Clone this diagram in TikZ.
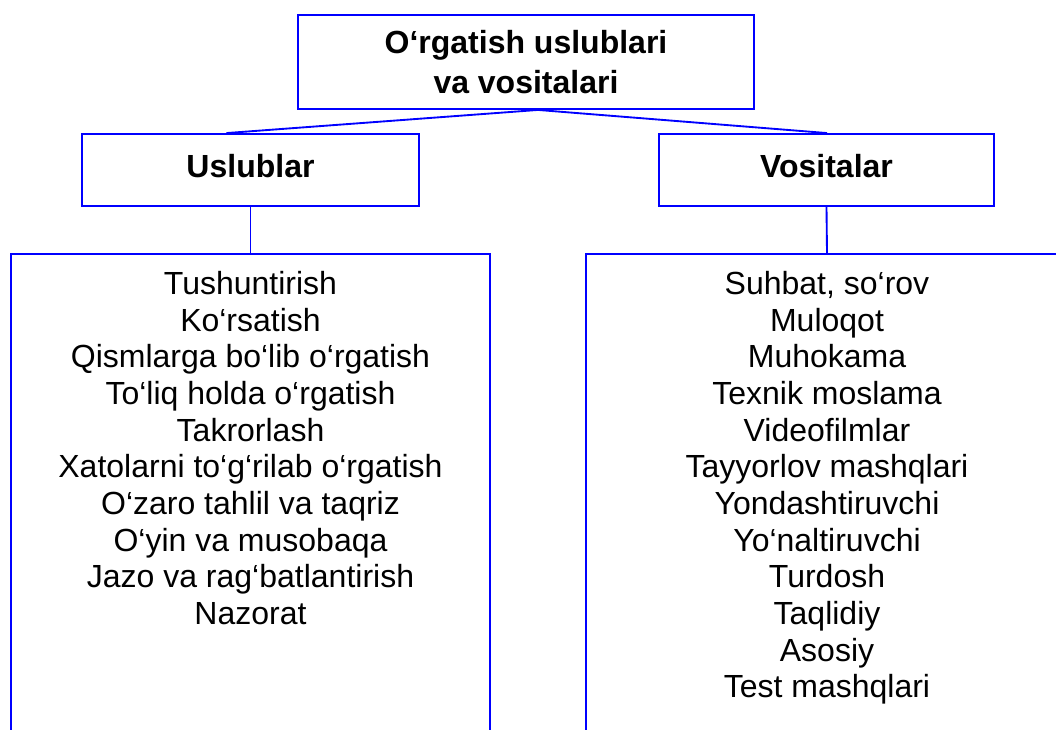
\documentclass[tikz,border=0pt]{standalone}
\usepackage{fontspec}
\setmainfont{Liberation Sans}
\usetikzlibrary{calc}
\begin{document}
\begin{tikzpicture}[x=0.75pt,y=-0.75pt,
  box/.style={draw=blue,line width=1.4pt,rectangle,inner sep=0pt},
  conn/.style={draw=blue,line width=1.4pt},
  head/.style={font=\fontsize{24}{29.5}\selectfont\bfseries,align=center},
  listtext/.style={font=\fontsize{24}{27.5}\selectfont,align=center,inner sep=0pt,anchor=north}]
\useasboundingbox (0,0) rectangle (1056,729);
\clip (0,0) rectangle (1056,729);
\fill[white] (0,0) rectangle (1056,729);
\node[box,head,minimum width=342pt,minimum height=70.5pt] (top) at (526,62) {O‘rgatish uslublari\\va vositalari};
\node[box,head,minimum width=252.75pt,minimum height=54pt,text height=17.5pt,text depth=6.5pt] (usl) at (250.5,170) {Uslublar};
\node[box,head,minimum width=251.25pt,minimum height=54pt,text height=17.5pt,text depth=6.5pt] (vos) at (826.5,170) {Vositalar};
\node[box,minimum width=359.25pt,minimum height=420pt] (lb) at (250.5,534) {};
\node[box,minimum width=361.5pt,minimum height=420pt] (rb) at (827,534) {};
\node[listtext] (lt) at (250.5,271) {Tushuntirish\\Ko‘rsatish\\Qismlarga bo‘lib o‘rgatish\\To‘liq holda o‘rgatish\\Takrorlash\\Xatolarni to‘g‘rilab o‘rgatish\\O‘zaro tahlil va taqriz\\O‘yin va musobaqa\\Jazo va rag‘batlantirish\\Nazorat};
\node[listtext] (rt) at (827,271) {Suhbat, so‘rov\\Muloqot\\Muhokama\\Texnik moslama\\Videofilmlar\\Tayyorlov mashqlari\\Yondashtiruvchi\\Yo‘naltiruvchi\\Turdosh\\Taqlidiy\\Asosiy\\Test mashqlari};
\draw[conn] ($(top.south)+(12,0)$) -- ($(usl.north)+(-24,0)$);
\draw[conn] ($(top.south)+(12,0)$) -- ($(vos.north)+(0.5,0)$);
\draw[conn] (usl.south) -- (lb.north);
\draw[conn] (vos.south) -- (rb.north);
\end{tikzpicture}
\end{document}
